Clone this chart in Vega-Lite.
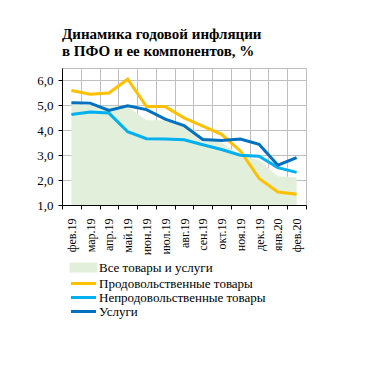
{
  "$schema": "https://vega.github.io/schema/vega-lite/v6.json",
  "width": 244,
  "height": 137,
  "autosize": "none",
  "padding": {"left": 62, "top": 68, "right": 82, "bottom": 167},
  "background": "white",
  "title": {
    "text": ["Динамика годовой инфляции", " в ПФО и ее компонентов, %"],
    "font": "'Liberation Serif', 'Times New Roman', 'DejaVu Serif', serif",
    "fontSize": 15,
    "fontWeight": "bold",
    "color": "#000000",
    "anchor": "start",
    "frame": "group",
    "offset": 9,
    "lineHeight": 17
  },
  "config": {
    "view": {"stroke": "#BFBFBF", "strokeWidth": 1},
    "axis": {
      "labelFont": "'Liberation Serif', 'Times New Roman', 'DejaVu Serif', serif",
      "labelColor": "#000000",
      "domainColor": "#000000",
      "tickColor": "#000000",
      "gridColor": "#BFBFBF",
      "gridWidth": 1
    }
  },
  "data": {
    "values": [
      {"month": "фев.19", "series": "Все товары и услуги", "value": 5.05},
      {"month": "мар.19", "series": "Все товары и услуги", "value": 5.0},
      {"month": "апр.19", "series": "Все товары и услуги", "value": 4.95},
      {"month": "май.19", "series": "Все товары и услуги", "value": 4.95},
      {"month": "июн.19", "series": "Все товары и услуги", "value": 4.4},
      {"month": "июл.19", "series": "Все товары и услуги", "value": 4.4},
      {"month": "авг.19", "series": "Все товары и услуги", "value": 4.2},
      {"month": "сен.19", "series": "Все товары и услуги", "value": 3.7},
      {"month": "окт.19", "series": "Все товары и услуги", "value": 3.5},
      {"month": "ноя.19", "series": "Все товары и услуги", "value": 3.0},
      {"month": "дек.19", "series": "Все товары и услуги", "value": 2.8},
      {"month": "янв.20", "series": "Все товары и услуги", "value": 2.15},
      {"month": "фев.20", "series": "Все товары и услуги", "value": 2.1},
      {"month": "фев.19", "series": "Продовольственные товары", "value": 5.6},
      {"month": "мар.19", "series": "Продовольственные товары", "value": 5.45},
      {"month": "апр.19", "series": "Продовольственные товары", "value": 5.5},
      {"month": "май.19", "series": "Продовольственные товары", "value": 6.05},
      {"month": "июн.19", "series": "Продовольственные товары", "value": 4.95},
      {"month": "июл.19", "series": "Продовольственные товары", "value": 4.95},
      {"month": "авг.19", "series": "Продовольственные товары", "value": 4.5},
      {"month": "сен.19", "series": "Продовольственные товары", "value": 4.17},
      {"month": "окт.19", "series": "Продовольственные товары", "value": 3.84},
      {"month": "ноя.19", "series": "Продовольственные товары", "value": 3.17},
      {"month": "дек.19", "series": "Продовольственные товары", "value": 2.07},
      {"month": "янв.20", "series": "Продовольственные товары", "value": 1.52},
      {"month": "фев.20", "series": "Продовольственные товары", "value": 1.43},
      {"month": "фев.19", "series": "Непродовольственные товары", "value": 4.63},
      {"month": "мар.19", "series": "Непродовольственные товары", "value": 4.73},
      {"month": "апр.19", "series": "Непродовольственные товары", "value": 4.69},
      {"month": "май.19", "series": "Непродовольственные товары", "value": 3.94},
      {"month": "июн.19", "series": "Непродовольственные товары", "value": 3.66},
      {"month": "июл.19", "series": "Непродовольственные товары", "value": 3.65},
      {"month": "авг.19", "series": "Непродовольственные товары", "value": 3.62},
      {"month": "сен.19", "series": "Непродовольственные товары", "value": 3.42},
      {"month": "окт.19", "series": "Непродовольственные товары", "value": 3.23},
      {"month": "ноя.19", "series": "Непродовольственные товары", "value": 3.0},
      {"month": "дек.19", "series": "Непродовольственные товары", "value": 2.96},
      {"month": "янв.20", "series": "Непродовольственные товары", "value": 2.5},
      {"month": "фев.20", "series": "Непродовольственные товары", "value": 2.31},
      {"month": "фев.19", "series": "Услуги", "value": 5.1},
      {"month": "мар.19", "series": "Услуги", "value": 5.09},
      {"month": "апр.19", "series": "Услуги", "value": 4.8},
      {"month": "май.19", "series": "Услуги", "value": 4.98},
      {"month": "июн.19", "series": "Услуги", "value": 4.83},
      {"month": "июл.19", "series": "Услуги", "value": 4.45},
      {"month": "авг.19", "series": "Услуги", "value": 4.19},
      {"month": "сен.19", "series": "Услуги", "value": 3.63},
      {"month": "окт.19", "series": "Услуги", "value": 3.59},
      {"month": "ноя.19", "series": "Услуги", "value": 3.65},
      {"month": "дек.19", "series": "Услуги", "value": 3.44},
      {"month": "янв.20", "series": "Услуги", "value": 2.6},
      {"month": "фев.20", "series": "Услуги", "value": 2.9}
    ]
  },
  "encoding": {
    "x": {
      "field": "month",
      "type": "ordinal",
      "sort": null,
      "bandPosition": 0.5,
      "scale": {"type": "band", "paddingInner": 0, "paddingOuter": 0},
      "axis": {
        "title": null,
        "tickBand": "extent",
        "grid": true,
        "labelAngle": -90,
        "labelAlign": "right",
        "labelBaseline": "middle",
        "labelFontSize": 12,
        "labelPadding": 9,
        "tickSize": 4,
        "ticks": true
      }
    },
    "y": {
      "field": "value",
      "type": "quantitative",
      "scale": {"domain": [1, 6.5], "zero": false, "nice": false},
      "axis": {
        "title": null,
        "values": [1, 2, 3, 4, 5, 6],
        "labelExpr": "replace(format(datum.value, '.1f'), '.', ',')",
        "labelFontSize": 13,
        "labelPadding": 5,
        "tickSize": 4,
        "grid": true
      }
    },
    "color": {
      "field": "series",
      "type": "nominal",
      "sort": null,
      "scale": {
        "domain": ["Все товары и услуги", "Продовольственные товары", "Непродовольственные товары", "Услуги"],
        "range": ["#E2EFDA", "#FFC000", "#00B0F0", "#0070C0"]
      },
      "legend": {
        "title": null,
        "orient": "none",
        "legendX": 15,
        "legendY": 193,
        "symbolType": "M-2.5,0H2.5",
        "symbolSize": 100,
        "symbolStrokeWidth": 3,
        "labelFont": "'Liberation Serif', 'Times New Roman', 'DejaVu Serif', serif",
        "labelFontSize": 13,
        "labelColor": "#000000",
        "labelOffset": 9,
        "labelLimit": 0,
        "rowPadding": 0,
        "encode": {
          "symbols": {
            "update": {
              "shape": {"signal": "datum.value === 'Все товары и услуги' ? 'M-2.5,-0.7H2.5V0.7H-2.5Z' : 'M-2.5,0H2.5'"},
              "fill": {"signal": "datum.value === 'Все товары и услуги' ? scale('color', datum.value) : 'transparent'"},
              "stroke": {"signal": "datum.value === 'Все товары и услуги' ? 'transparent' : scale('color', datum.value)"}
            }
          }
        }
      }
    }
  },
  "layer": [
    {
      "transform": [{"filter": "datum.series === 'Все товары и услуги'"}],
      "mark": {"type": "area", "opacity": 1},
      "encoding": {"y2": {"datum": 1}}
    },
    {
      "transform": [{"filter": "datum.series !== 'Все товары и услуги'"}],
      "mark": {"type": "line", "strokeWidth": 3}
    }
  ]
}
